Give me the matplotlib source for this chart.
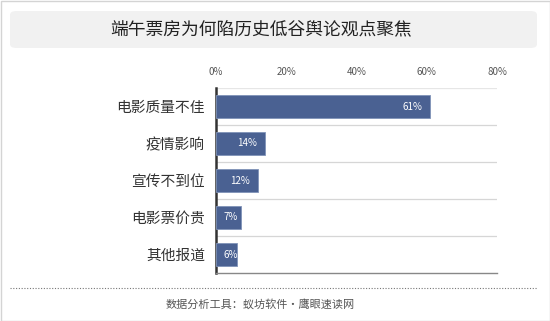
"""端午票房舆论观点条形图"""

import matplotlib.pyplot as plt
from matplotlib.patches import FancyBboxPatch, Rectangle

plt.rcParams['font.family'] = ['Noto Sans CJK SC', 'DejaVu Sans']

categories = ['电影质量不佳', '疫情影响', '宣传不到位', '电影票价贵', '其他报道']
values = [61, 14, 12, 7, 6]
x_ticks = [0, 20, 40, 60, 80]
title = '端午票房为何陷历史低谷舆论观点聚焦'
footer = '数据分析工具：蚁坊软件·鹰眼速读网'

W, H = 550, 321
fig = plt.figure(figsize=(W / 100, H / 100), dpi=100)

# 外框和标题底板
fig.patches.append(Rectangle((0.5 / W, 0.5 / H), 1 - 1 / W, 1 - 1 / H,
                             transform=fig.transFigure, fill=False,
                             edgecolor='#d4d4d4', linewidth=1))
fig.patches.append(FancyBboxPatch((10 / W, 1 - 48 / H), 527 / W, 37 / H,
                                  boxstyle='round,pad=0,rounding_size=0.012',
                                  transform=fig.transFigure,
                                  facecolor='#f1f1f1', edgecolor='none'))
fig.text(261 / W, 1 - 29 / H, title, ha='center', va='center',
         fontsize=12.8, color='#222222')

ax = fig.add_axes([216 / W, 1 - 273 / H, 281 / W, 185 / H])
pos = list(range(len(categories)))
ax.barh(pos, values, height=0.6, color='#4a6192', edgecolor='#8093b8',
        linewidth=0.6, zorder=3)
# 标签放在柱内靠右，短柱时固定在左侧
for p, v in zip(pos, values):
    ax.text(max(v - 5.1, 4.3), p, f'{v}%', ha='center', va='center',
            fontsize=7, color='white', zorder=4)

ax.set_xlim(0, 80)
ax.set_ylim(len(categories) - 0.5, -0.5)
ax.set_xticks(x_ticks)
ax.set_xticklabels([f'{t}%' for t in x_ticks], fontsize=7, color='#555555')
ax.xaxis.tick_top()
ax.set_yticks(pos)
ax.set_yticklabels(categories, fontsize=10.6, color='#333333')
ax.tick_params(length=0)
ax.tick_params(axis='x', pad=8)
ax.tick_params(axis='y', pad=8)

for b in [p - 0.5 for p in pos][1:]:
    ax.axhline(b, color='#d6d6d6', linewidth=0.9, zorder=1)
ax.axhline(-0.5, color='#e6e6e6', linewidth=0.9, zorder=1)

for s in ['top', 'right']:
    ax.spines[s].set_visible(False)
ax.spines['bottom'].set_color('#888888')
ax.spines['bottom'].set_linewidth(1)
ax.spines['left'].set_color('#333333')
ax.spines['left'].set_linewidth(1.8)

# 底部虚线和来源
fig.add_artist(plt.Line2D([10 / W, 537 / W], [1 - 288 / H, 1 - 288 / H],
                          transform=fig.transFigure, color='#777777',
                          linewidth=0.8, linestyle=(0, (1, 1.5))))
fig.text(260 / W, 1 - 304 / H, footer, ha='center', va='center',
         fontsize=8, color='#555555')

fig.savefig('out.png', dpi=100)
